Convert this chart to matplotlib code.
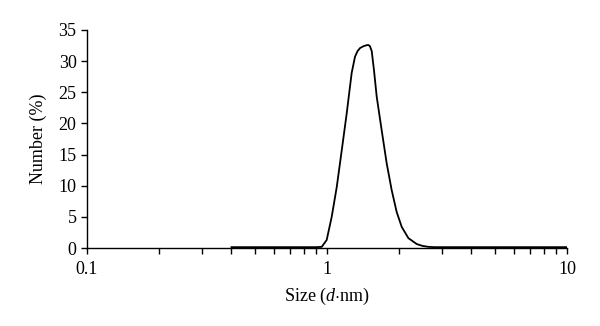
import matplotlib
matplotlib.use('Agg')
import matplotlib.pyplot as plt
from matplotlib.ticker import LogLocator, NullFormatter, FixedLocator, FixedFormatter

plt.rcParams['font.family'] = ['Liberation Serif', 'DejaVu Serif']
plt.rcParams['mathtext.fontset'] = 'custom'
plt.rcParams['mathtext.rm'] = 'Liberation Serif'
plt.rcParams['mathtext.it'] = 'Liberation Serif:italic'

size_nm = [0.40, 0.60, 0.80, 0.90, 0.951, 0.997, 1.046, 1.098, 1.152, 1.208, 1.267,
           1.308, 1.340, 1.373, 1.42, 1.46, 1.486, 1.51, 1.536, 1.57, 1.611, 1.690,
           1.773, 1.860, 1.951, 2.048, 2.183, 2.365, 2.50, 2.643, 2.80, 3.5, 5.0,
           7.0, 10.0]
number_pct = [0.15, 0.15, 0.15, 0.15, 0.2, 1.3, 5.0, 9.8, 15.7, 21.6, 28.1,
              30.7, 31.6, 32.1, 32.4, 32.55, 32.6, 32.4, 31.6, 28.5, 24.3, 18.9,
              13.6, 9.3, 5.8, 3.4, 1.6, 0.65, 0.35, 0.2, 0.15, 0.15, 0.15,
              0.15, 0.15]

fig = plt.figure(figsize=(6.0, 3.26), dpi=100)
ax = fig.add_axes([0.145, 0.239, 0.80, 0.669])

ax.plot(size_nm, number_pct, color='black', lw=1.3)

ax.set_xscale('log')
ax.set_xlim(0.1, 10)
ax.set_ylim(0, 35)
ax.xaxis.set_major_locator(FixedLocator([0.1, 1, 10]))
ax.xaxis.set_major_formatter(FixedFormatter(['0.1', '1', '10']))
ax.xaxis.set_minor_locator(LogLocator(subs=range(2, 10), numticks=20))
ax.xaxis.set_minor_formatter(NullFormatter())
ax.set_yticks(range(0, 36, 5))

for side in ('top', 'right'):
    ax.spines[side].set_visible(False)
for side in ('left', 'bottom'):
    ax.spines[side].set_linewidth(1.0)

ax.tick_params(which='both', direction='out', width=1.0, labelsize=13)
ax.tick_params(which='major', length=4)
ax.tick_params(which='minor', length=4)
ax.tick_params(axis='x', pad=5)

ax.set_xlabel(r'Size ($d$$\cdot$nm)', fontsize=13, labelpad=6)
ax.set_ylabel('Number (%)', fontsize=13, labelpad=8)

fig.savefig('out.png', dpi=100)
